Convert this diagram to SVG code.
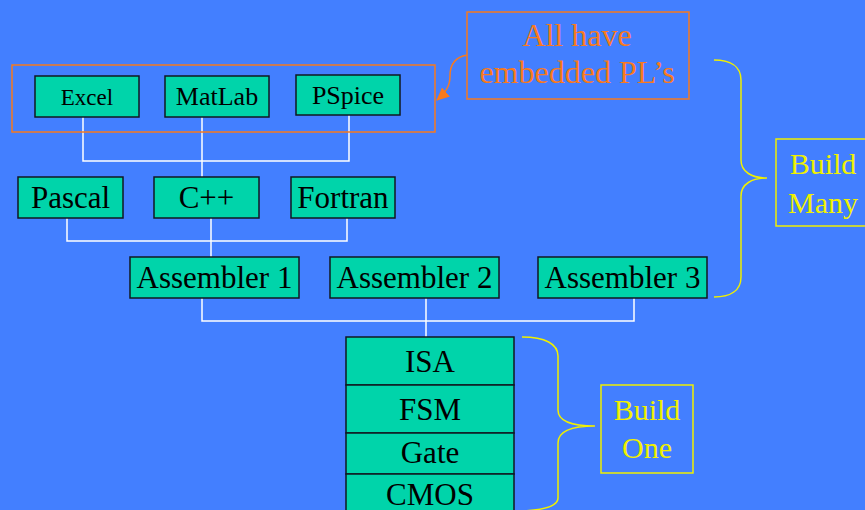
<svg xmlns="http://www.w3.org/2000/svg" width="865" height="510" viewBox="0 0 865 510">
<style>
.bg{fill:#437FFF}
.node{fill:#00D4AA;stroke:#101820;stroke-width:1.5}
.t{font-family:"Liberation Serif","Times New Roman",serif;fill:#000;text-anchor:middle}
.conn{fill:none;stroke:#FFFFFF;stroke-width:1.5}
.orange{fill:none;stroke:#F87A1E;stroke-width:1.5}
.ot{font-family:"Liberation Serif","Times New Roman",serif;fill:#F87A1E;text-anchor:middle;font-size:32px}
.yellow{fill:none;stroke:#F0F000;stroke-width:1.5}
.yt{font-family:"Liberation Serif","Times New Roman",serif;fill:#F0F000;text-anchor:middle;font-size:30px}
</style>
<defs>
<marker id="oarrow" markerWidth="14" markerHeight="12" refX="12" refY="6" orient="auto" markerUnits="userSpaceOnUse">
<path d="M0,0 L13,6 L0,12 z" fill="#F87A1E"/>
</marker>
</defs>
<rect class="bg" x="0" y="0" width="865" height="510"/>

<g id="connectors">
<polyline class="conn" points="83,117 83,161 349,161 349,115"/>
<line class="conn" x1="202" y1="117" x2="202" y2="177"/>
<polyline class="conn" points="67,218 67,241 347,241 347,218"/>
<line class="conn" x1="211" y1="218" x2="211" y2="257"/>
<polyline class="conn" points="202,298 202,321 634,321 634,298"/>
<line class="conn" x1="426" y1="298" x2="426" y2="337"/>
<path class="orange" d="M467,55 C455,57 450,65 450,76 C450,86 446,92 437,100" marker-end="url(#oarrow)"/>
</g>

<g id="embedded-group">
<rect class="orange" x="12" y="65" width="423" height="67"/>
</g>
<g id="excel"><rect class="node" x="35" y="76" width="104" height="41"/><text class="t" x="87" y="105" font-size="23">Excel</text></g>
<g id="matlab"><rect class="node" x="165" y="76" width="104" height="41"/><text class="t" x="217" y="105" font-size="26">MatLab</text></g>
<g id="pspice"><rect class="node" x="296" y="75" width="104" height="40"/><text class="t" x="348" y="104" font-size="26">PSpice</text></g>

<g id="pascal"><rect class="node" x="18" y="177" width="105" height="41"/><text class="t" x="70.5" y="208" font-size="31">Pascal</text></g>
<g id="cpp"><rect class="node" x="154" y="177" width="105" height="41"/><text class="t" x="206.5" y="208" font-size="31">C++</text></g>
<g id="fortran"><rect class="node" x="291" y="177" width="104" height="41"/><text class="t" x="343" y="208" font-size="31">Fortran</text></g>

<g id="asm1"><rect class="node" x="130" y="257" width="169" height="41"/><text class="t" x="214.5" y="288" font-size="31">Assembler 1</text></g>
<g id="asm2"><rect class="node" x="330" y="257" width="169" height="41"/><text class="t" x="414.5" y="288" font-size="31">Assembler 2</text></g>
<g id="asm3"><rect class="node" x="538" y="257" width="169" height="41"/><text class="t" x="622.5" y="288" font-size="31">Assembler 3</text></g>

<g id="isa"><rect class="node" x="346" y="337" width="168" height="48"/><text class="t" x="430" y="372" font-size="31">ISA</text></g>
<g id="fsm"><rect class="node" x="346" y="385" width="168" height="48"/><text class="t" x="430" y="420" font-size="31">FSM</text></g>
<g id="gate"><rect class="node" x="346" y="433" width="168" height="41"/><text class="t" x="430" y="463" font-size="31">Gate</text></g>
<g id="cmos"><rect class="node" x="346" y="474" width="168" height="40"/><text class="t" x="430" y="505" font-size="31">CMOS</text></g>

<g id="note-embedded">
<rect class="orange" x="467" y="12" width="222" height="87"/>
<text class="ot" x="577" y="46">All have</text>
<text class="ot" x="577" y="83">embedded PL’s</text>
</g>

<g id="brace-many">
<path class="yellow" d="M714,60 C730,60 741,66 741,80 L741,160 C741,172 752,178 767,178 C752,178 741,184 741,196 L741,277 C741,291 730,297 714,297"/>
</g>
<g id="build-many">
<rect class="yellow" x="776" y="139" width="92" height="87"/>
<text class="yt" x="823" y="174">Build</text>
<text class="yt" x="823" y="213">Many</text>
</g>

<g id="brace-one">
<path class="yellow" d="M522,337 C545,337 558,344 558,356 L558,410 C558,421 572,426 595,426 C572,426 558,431 558,443 L558,498 C558,506 545,510 522,511"/>
</g>
<g id="build-one">
<rect class="yellow" x="601" y="385" width="92" height="88"/>
<text class="yt" x="647" y="420">Build</text>
<text class="yt" x="647" y="458">One</text>
</g>
</svg>
